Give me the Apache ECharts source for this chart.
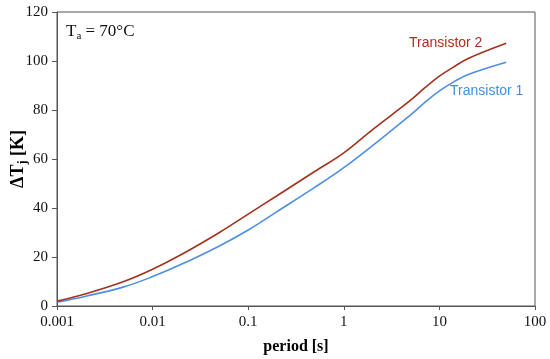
<!DOCTYPE html>
<html>
<head>
<meta charset="utf-8">
<script src="https://cdn.jsdelivr.net/npm/echarts@6/dist/echarts.min.js"></script>
<style>html,body{margin:0;padding:0;background:#fff}#c{width:550px;height:359px}</style>
</head>
<body>
<div id="c"></div>
<script>
const periods = [0.001, 0.002, 0.005, 0.01, 0.02, 0.05, 0.1, 0.2, 0.5, 1, 2, 5, 7, 10, 14, 20, 50];
const transistor1 = [1.5, 4, 7.8, 12, 17, 24.5, 31, 38.5, 48.5, 56.5, 65.5, 78, 83, 87.8, 91.4, 94.5, 99.5];
const transistor2 = [2, 5, 10, 15, 21, 30, 37.5, 45, 55, 62.5, 72, 84, 89, 93.8, 97.5, 101, 107.2];
const xTickLabels = ['0.001', '0.01', '0.1', '1', '10', '100'];
const yTicks = [0, 20, 40, 60, 80, 100, 120];

const serif = '"Liberation Serif", "Times New Roman", serif';
const sans = '"Liberation Sans", "Open Sans", sans-serif';
const axisColor = '#555';

const chart = echarts.init(document.getElementById('c'), null, {renderer: 'canvas'});
chart.setOption({
  animation: false,
  backgroundColor: '#fff',
  grid: {left: 57, right: 15, top: 12, bottom: 53, show: true, borderColor: axisColor, borderWidth: 1,
         containLabel: false, outerBoundsMode: 'none'},
  xAxis: {
    type: 'log', logBase: 10, min: 0.001, max: 100,
    name: 'period [s]', nameLocation: 'middle', nameGap: 33, nameMoveOverlap: false,
    nameTextStyle: {fontFamily: serif, fontSize: 16, fontWeight: 'bold', color: '#000'},
    axisLine: {lineStyle: {color: axisColor, width: 1}},
    axisTick: {show: true, length: 4, lineStyle: {color: axisColor}},
    minorTick: {show: false},
    splitLine: {show: false},
    axisLabel: {
      fontFamily: serif, fontSize: 15, color: '#111', margin: 9,
      formatter: function (v) {
        const e = Math.round(Math.log10(v));
        return xTickLabels[e + 3] !== undefined ? xTickLabels[e + 3] : '';
      }
    }
  },
  yAxis: {
    type: 'value', min: yTicks[0], max: yTicks[yTicks.length - 1], interval: 20,
    name: '{b|ΔT}{s|j}{b| [K]}', nameLocation: 'middle', nameGap: 28, nameRotate: 90, nameMoveOverlap: false,
    nameTextStyle: {
      rich: {
        b: {fontFamily: serif, fontSize: 18, fontWeight: 'bold', color: '#000'},
        s: {fontFamily: serif, fontSize: 12, fontWeight: 'bold', color: '#000', verticalAlign: 'bottom', padding: [9, 0, 0, 0]}
      }
    },
    axisLine: {show: true, lineStyle: {color: axisColor, width: 1}},
    axisTick: {show: true, length: 5, lineStyle: {color: axisColor}},
    splitLine: {show: false},
    axisLabel: {fontFamily: serif, fontSize: 15, color: '#111', margin: 9}
  },
  series: [
    {
      name: 'Transistor 1', type: 'line', smooth: 0.4, symbol: 'none',
      data: periods.map((p, i) => [p, transistor1[i]]),
      lineStyle: {color: '#4f8fe3', width: 1.6}
    },
    {
      name: 'Transistor 2', type: 'line', smooth: 0.4, symbol: 'none',
      data: periods.map((p, i) => [p, transistor2[i]]),
      lineStyle: {color: '#a1321c', width: 1.6}
    }
  ],
  graphic: [
    {
      type: 'text', left: 66, top: 23,
      style: {
        text: '{t|T}{s|a}{t| = 70°C}',
        rich: {
          t: {fontFamily: serif, fontSize: 17, fill: '#111'},
          s: {fontFamily: serif, fontSize: 11, fill: '#111', padding: [9, 0, 0, 0]}
        }
      }
    },
    {
      type: 'text', left: 409, top: 36,
      style: {text: 'Transistor 2', fontFamily: sans, fontSize: 14, fill: '#b02d20'}
    },
    {
      type: 'text', left: 450, top: 84,
      style: {text: 'Transistor 1', fontFamily: sans, fontSize: 14, fill: '#3f8fdc'}
    }
  ]
});
</script>
</body>
</html>
